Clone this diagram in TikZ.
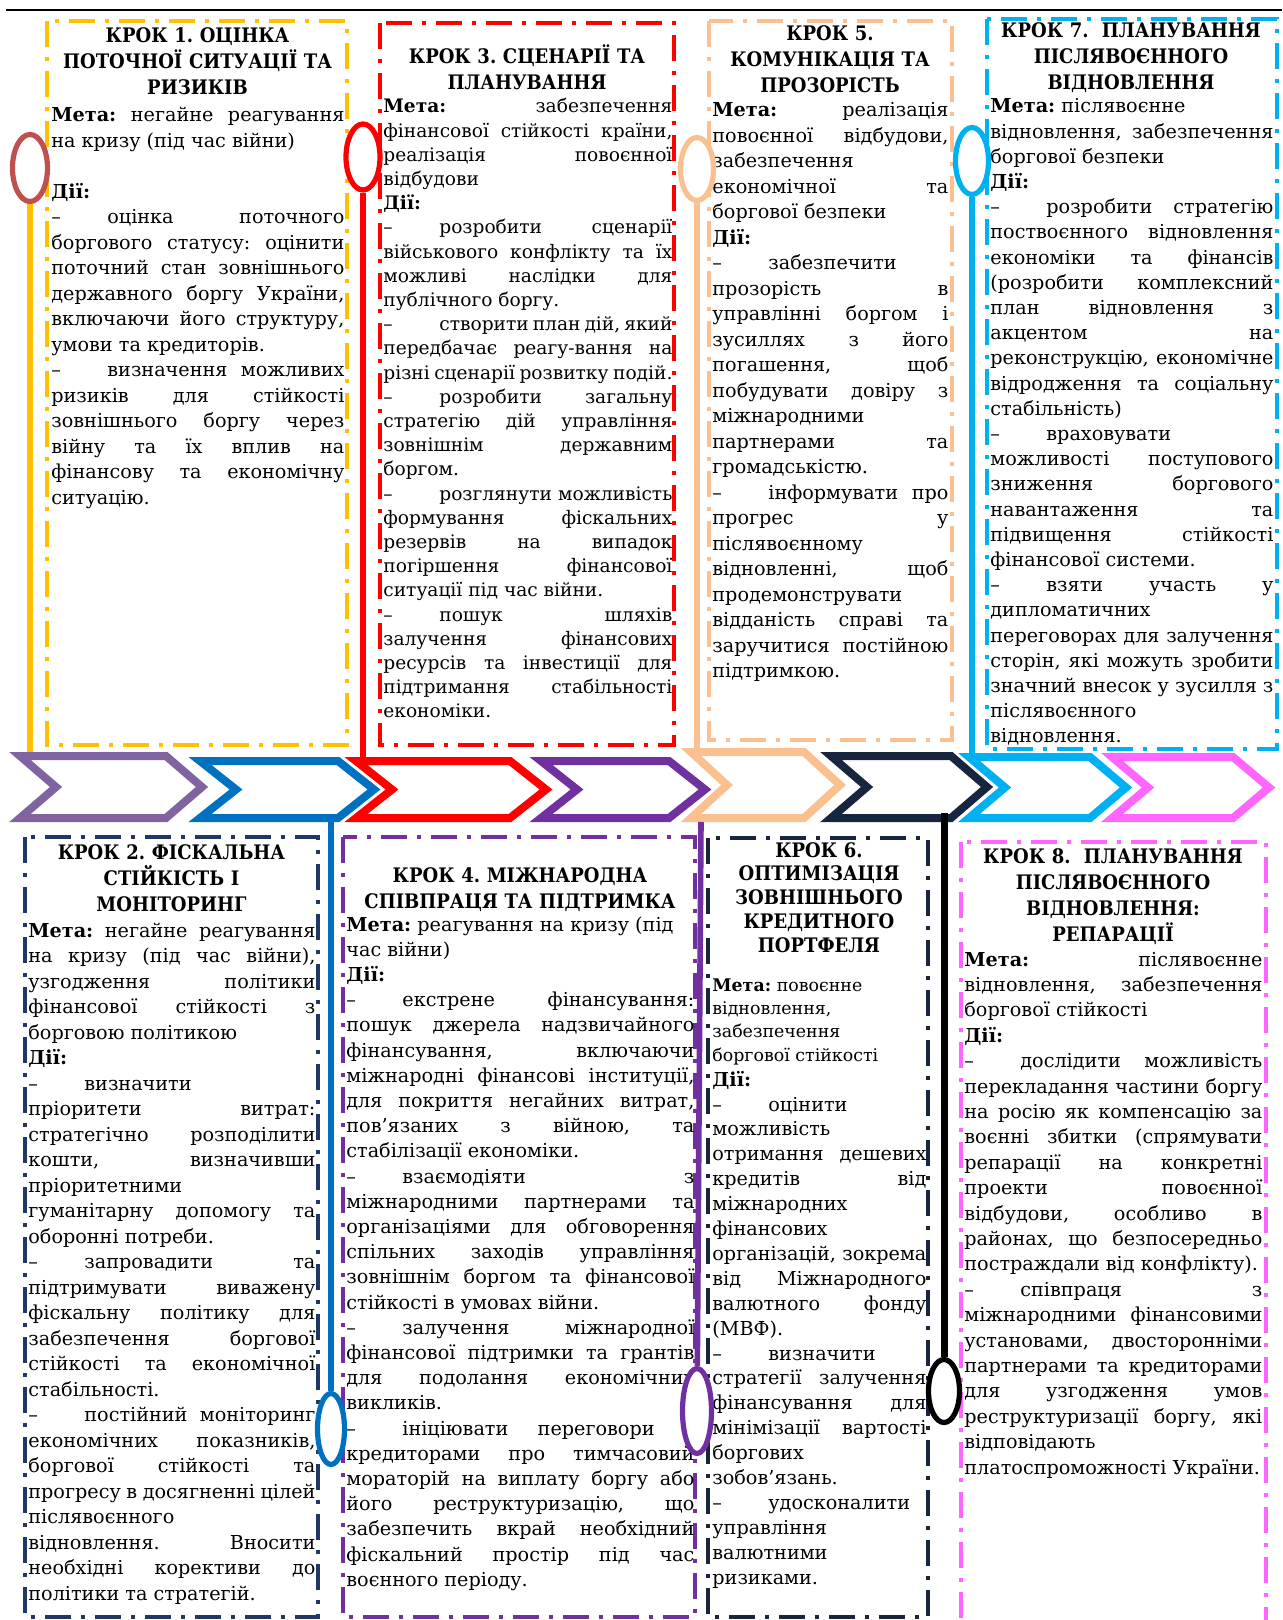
\documentclass[tikz,border=0pt]{standalone}
\usepackage{fontspec}
\setmainfont{DejaVu Serif}
\newfontfamily\condfont{DejaVu Serif Condensed}
\usetikzlibrary{shapes.geometric}

\definecolor{krokyellow}{HTML}{FFC000}
\definecolor{krokred}{HTML}{FF0000}
\definecolor{krokpeach}{HTML}{FAC090}
\definecolor{krokcyan}{HTML}{00B0F0}
\definecolor{kroknavy}{HTML}{1F3864}
\definecolor{krokpurple}{HTML}{7030A0}
\definecolor{krokink}{HTML}{17253F}
\definecolor{krokpink}{HTML}{FF66FF}
\definecolor{krokbrick}{HTML}{C0504D}
\definecolor{krokblue}{HTML}{0070C0}
\definecolor{kroklilac}{HTML}{8064A2}

\newcommand{\ttlfont}{\condfont\bfseries\fontsize{10}{13}\selectfont}
\newcommand{\itm}{\makebox[28pt][l]{–}}
\newcommand{\lnbr}{\hfill\break}
\tolerance=10000 \hbadness=10000 \hyphenpenalty=10000 \exhyphenpenalty=10000
\frenchspacing

\tikzset{
  krok/.style={line width=2pt, dash pattern=on 13pt off 5pt on 2pt off 5pt},
  ttl/.style={inner sep=0pt, anchor=base, align=center, text width=#1, font=\ttlfont},
  txt/.style 2 args={inner sep=0pt, anchor=base west, align=justify, text width=#1, font=\fontsize{9.6}{#2}\selectfont},
  chevron/.style={line width=4pt, line join=miter},
  pin/.style={ellipse, draw, fill=white, line width=2.6pt, inner sep=0pt},
  pinline/.style={line width=2.8pt},
}

\begin{document}
\begin{tikzpicture}[x=0.5pt, y=-0.5pt]
\useasboundingbox (0,0) rectangle (1282,1620);
\clip (0,0) rectangle (1282,1620);

\draw[line width=1.4pt] (6,10) -- (1282,10);

% frames
\draw[krok, draw=krokyellow] (47,21) rectangle (347,745);
\draw[krok, draw=krokred] (380,23) rectangle (674,745);
\draw[krok, draw=krokpeach] (709,21) rectangle (952,740);
\draw[krok, draw=krokcyan] (987,19) rectangle (1277,749);
\draw[krok, draw=kroknavy] (25,837) rectangle (318,1617);
\draw[krok, draw=krokpurple] (343,837) rectangle (695,1617);
\draw[krok, draw=krokink] (708,838) rectangle (928,1617);
\draw[krok, draw=krokpink] (961,842) rectangle (1266,1660);

% step 1
\node[ttl=150pt] (t1) at (197.5,43) {КРОК 1. ОЦІНКА\\ПОТОЧНОЇ СИТУАЦІЇ ТА\\РИЗИКІВ};
\node[txt={146.5pt}{12.75}] (b1) at (51,122) {\textbf{Мета:} негайне реагування\linebreak на кризу (під час війни)\par
\leavevmode\par
\textbf{Дії:}\par
\itm оцінка поточного\linebreak боргового статусу: оцінити\linebreak поточний стан зовнішнього\linebreak державного боргу України,\linebreak включаючи його структуру,\linebreak умови та кредиторів.\par
\itm визначення можливих\linebreak ризиків для стійкості\linebreak зовнішнього боргу через\linebreak війну та їх вплив на\linebreak фінансову та економічну\linebreak ситуацію.};

% step 3
\node[ttl=147pt] (t3) at (527,64) {КРОК 3. СЦЕНАРІЇ ТА\\ПЛАНУВАННЯ};
\node[txt={144.5pt}{12.1}, font=\fontsize{9.3}{12.1}\selectfont] (b3) at (383,113) {\textbf{Мета:} забезпечення\linebreak фінансової стійкості країни,\linebreak реалізація повоєнної\linebreak відбудови\par
\textbf{Дії:}\par
\itm розробити сценарії\linebreak військового конфлікту та їх\linebreak можливі наслідки для\linebreak публічного боргу.\par
\itm створити план дій, який\linebreak передбачає реагу-вання на\linebreak різні сценарії розвитку подій.\par
\itm розробити загальну\linebreak стратегію дій управління\linebreak зовнішнім державним\linebreak боргом.\par
\itm розглянути можливість\linebreak формування фіскальних\linebreak резервів на випадок\linebreak погіршення фінансової\linebreak ситуації під час війни.\par
\itm пошук шляхів\linebreak залучення фінансових\linebreak ресурсів та інвестиції для\linebreak підтримання стабільності\linebreak економіки.};

% step 5
\node[ttl=120pt] (t5) at (830,41) {КРОК 5.\\КОМУНІКАЦІЯ ТА\\ПРОЗОРІСТЬ};
\node[txt={118pt}{12.75}] (b5) at (712,117) {\textbf{Мета:} реалізація\linebreak повоєнної відбудови,\linebreak забезпечення\linebreak економічної та\linebreak боргової безпеки\par
\textbf{Дії:}\par
\itm забезпечити\linebreak прозорість в\linebreak управлінні боргом і\linebreak зусиллях з його\linebreak погашення, щоб\linebreak побудувати довіру з\linebreak міжнародними\linebreak партнерами та\linebreak громадськістю.\par
\itm інформувати про\linebreak прогрес у\linebreak післявоєнному\linebreak відновленні, щоб\linebreak продемонструвати\linebreak відданість справі та\linebreak заручитися постійною\linebreak підтримкою.};

% step 7
\node[ttl=145pt] (t7) at (1131,38) {КРОК 7.~ ПЛАНУВАННЯ\\ПІСЛЯВОЄННОГО\\ВІДНОВЛЕННЯ};
\node[txt={141.5pt}{12.6}] (b7) at (990,113) {\textbf{Мета:} післявоєнне\lnbr відновлення, забезпечення\linebreak боргової безпеки\par
\textbf{Дії:}\par
\itm розробити стратегію\linebreak поствоєнного відновлення\linebreak економіки та фінансів\linebreak (розробити комплексний\linebreak план відновлення з\linebreak акцентом на\linebreak реконструкцію, економічне\linebreak відродження та соціальну\linebreak стабільність)\par
\itm враховувати\linebreak можливості поступового\linebreak зниження боргового\linebreak навантаження та\linebreak підвищення стійкості\linebreak фінансової системи.\par
\itm взяти участь у\linebreak дипломатичних\linebreak переговорах для залучення\linebreak сторін, які можуть зробити\linebreak значний внесок у зусилля з\linebreak післявоєнного\linebreak відновлення.};

% step 2
\node[ttl=146pt] (t2) at (171.5,859) {КРОК 2. ФІСКАЛЬНА\\СТІЙКІСТЬ І\\МОНІТОРИНГ};
\node[txt={143.5pt}{12.75}] (b2) at (28,937) {\textbf{Мета:} негайне реагування\linebreak на кризу (під час війни),\linebreak узгодження політики\linebreak фінансової стійкості з\linebreak борговою політикою\par
\textbf{Дії:}\par
\itm визначити\lnbr пріоритети витрат:\linebreak стратегічно розподілити\linebreak кошти, визначивши\linebreak пріоритетними\linebreak гуманітарну допомогу та\linebreak оборонні потреби.\par
\itm запровадити та\linebreak підтримувати виважену\linebreak фіскальну політику для\linebreak забезпечення боргової\linebreak стійкості та економічної\linebreak стабільності.\par
\itm постійний моніторинг\linebreak економічних показників,\linebreak боргової стійкості та\linebreak прогресу в досягненні цілей\linebreak післявоєнного\linebreak відновлення. Вносити\linebreak необхідні корективи до\linebreak політики та стратегій.};

% step 4
\node[ttl=176pt] (t4) at (520,882) {КРОК 4. МІЖНАРОДНА\\СПІВПРАЦЯ ТА ПІДТРИМКА};
\node[txt={174pt}{12.6}] (b4) at (346,931) {\textbf{Мета:} реагування на кризу (під\lnbr час війни)\par
\textbf{Дії:}\par
\itm екстрене фінансування:\linebreak пошук джерела надзвичайного\linebreak фінансування, включаючи\linebreak міжнародні фінансові інституції,\linebreak для покриття негайних витрат,\linebreak пов'язаних з війною, та\linebreak стабілізації економіки.\par
\itm взаємодіяти з\linebreak міжнародними партнерами та\linebreak організаціями для обговорення\linebreak спільних заходів управління\linebreak зовнішнім боргом та фінансової\linebreak стійкості в умовах війни.\par
\itm залучення міжнародної\linebreak фінансової підтримки та грантів\linebreak для подолання економічних\linebreak викликів.\par
\itm ініціювати переговори з\linebreak кредиторами про тимчасовий\linebreak мораторій на виплату боргу або\linebreak його реструктуризацію, що\linebreak забезпечить вкрай необхідний\linebreak фіскальний простір під час\linebreak воєнного періоду.};

% step 6
\node[ttl=110pt, font=\ttlfont\fontsize{10}{11.9}\selectfont] (t6) at (819,857) {КРОК 6.\\ОПТИМІЗАЦІЯ\\ЗОВНІШНЬОГО\\КРЕДИТНОГО\\ПОРТФЕЛЯ};
\node[txt={107pt}{12.45}] (b6) at (712,991) {{\fontsize{8.7}{11.7}\selectfont\textbf{Мета:} повоєнне\lnbr відновлення,\lnbr забезпечення\lnbr боргової стійкості\par}
\textbf{Дії:}\par
\itm оцінити\lnbr можливість\linebreak отримання дешевих\linebreak кредитів від\linebreak міжнародних\linebreak фінансових\linebreak організацій, зокрема\linebreak від Міжнародного\linebreak валютного фонду\linebreak (МВФ).\par
\itm визначити\lnbr стратегії залучення\linebreak фінансування для\linebreak мінімізації вартості\linebreak боргових\linebreak зобов'язань.\par
\itm удосконалити\lnbr управління\linebreak валютними\linebreak ризиками.};

% step 8
\node[ttl=150pt] (t8) at (1113,863) {КРОК 8.~ ПЛАНУВАННЯ\\ПІСЛЯВОЄННОГО\\ВІДНОВЛЕННЯ:\\РЕПАРАЦІЇ};
\node[txt={149pt}{12.7}] (b8) at (964,966) {\textbf{Мета:} післявоєнне\linebreak відновлення, забезпечення\linebreak боргової стійкості\par
\textbf{Дії:}\par
\itm дослідити можливість\linebreak перекладання частини боргу\linebreak на росію як компенсацію за\linebreak воєнні збитки (спрямувати\linebreak репарації на конкретні\linebreak проекти повоєнної\linebreak відбудови, особливо в\linebreak районах, що безпосередньо\linebreak постраждали від конфлікту).\par
\itm співпраця з\linebreak міжнародними фінансовими\linebreak установами, двосторонніми\linebreak партнерами та кредиторами\linebreak для узгодження умов\linebreak реструктуризації боргу, які\linebreak відповідають\linebreak платоспроможності України.};

% chevrons
\foreach \xl/\xr/\yt/\col in {16/208/752/kroklilac, 196/380/757/krokblue, 352/552/757/krokred, 537/711/757/krokpurple, 687/846/748/krokpeach, 827/993/752/krokink, 965/1132/753/krokcyan, 1108/1275/753/krokpink}
  \draw[chevron, draw=\col] (\xl+4,\yt+4) -- (\xr-42,\yt+4) -- (\xr-6,{(\yt+822)/2}) -- (\xr-42,818) -- (\xl+4,818) -- (\xl+40,{(\yt+822)/2}) -- cycle;

% pins
\coordinate (s1) at (30,752);
\coordinate (s3) at (363,757);
\coordinate (s5) at (697,748);
\coordinate (s7) at (972,753);
\coordinate (s2) at (331,822);
\coordinate (s4) at (701,822);
\coordinate (s6) at (944,813);

\node[pin, draw=krokbrick, minimum width=17.5pt, minimum height=33.5pt] (e1) at (30,168) {};
\node[pin, draw=krokred, minimum width=17pt, minimum height=33pt] (e3) at (363,157) {};
\node[pin, draw=krokpeach, minimum width=16.5pt, minimum height=31.5pt] (e5) at (697,169) {};
\node[pin, draw=krokcyan, minimum width=16.5pt, minimum height=33.5pt] (e7) at (972,161) {};
\node[pin, draw=krokblue, minimum width=13.5pt, minimum height=35.5pt] (e2) at (331,1429) {};
\node[pin, draw=krokpurple, minimum width=14.5pt, minimum height=42.5pt] (e4) at (697,1411) {};
\node[pin, draw=black, minimum width=15.5pt, minimum height=31.5pt] (e6) at (944,1391) {};

\draw[pinline, krokyellow] (s1) -- (e1);
\draw[pinline, krokred] (s3) -- (e3);
\draw[pinline, krokpeach] (s5) -- (e5);
\draw[pinline, krokcyan] (s7) -- (e7);
\draw[pinline, krokblue] (s2) -- (e2);
\draw[pinline, krokpurple] (s4) -- (e4);
\draw[pinline, black, line width=3.5pt] (s6) -- (e6);

\end{tikzpicture}
\end{document}
